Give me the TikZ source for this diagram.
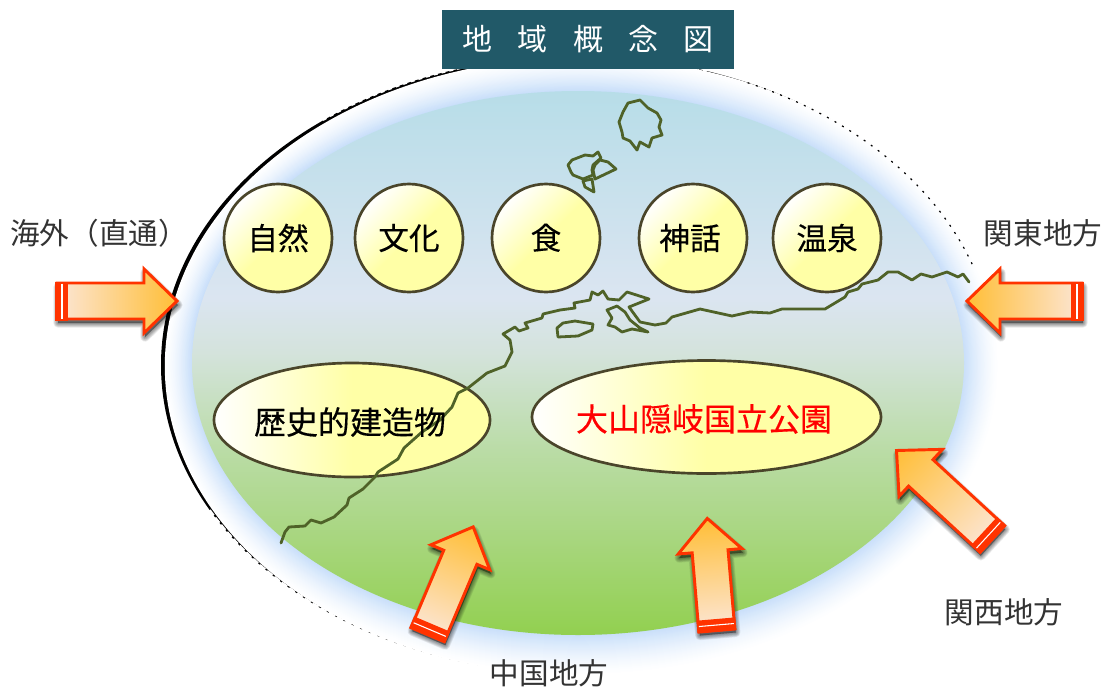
\documentclass[tikz,border=0pt]{standalone}
\usepackage{fontspec}
\setmainfont{Noto Sans CJK JP}
\newfontfamily\medcjk[FakeBold=0.35]{Noto Sans CJK JP}
\usetikzlibrary{shapes.geometric}
\definecolor{glowblue}{HTML}{C8DFFA}
\definecolor{coast}{HTML}{4F6228}
\definecolor{edgebrown}{HTML}{4A452A}
\definecolor{flowred}{HTML}{FF3300}
\definecolor{tailpale}{HTML}{FCE6D6}
\definecolor{tipgold}{HTML}{FFBE36}
\definecolor{titleteal}{HTML}{215968}
\definecolor{ra}{HTML}{92D050}
\definecolor{rb}{HTML}{A8D67F}
\definecolor{rc}{HTML}{BADCA6}
\definecolor{rd}{HTML}{D4E3DC}
\definecolor{re}{HTML}{DBE5F1}
\definecolor{rf}{HTML}{B7DDE8}
\definecolor{cream}{HTML}{FFFFA6}
\pgfdeclareverticalshading{regionfill}{100bp}{
 color(0bp)=(ra);color(25bp)=(ra);
 color(34bp)=(rb);color(42bp)=(rc);color(51bp)=(rd);
 color(56bp)=(re);color(75bp)=(rf);color(100bp)=(rf)}
\pgfdeclarehorizontalshading{creamfill}{100bp}{
 color(0bp)=(white);color(25bp)=(white);color(50bp)=(cream);color(100bp)=(cream)}
\tikzset{
 topicball/.style={circle,draw=edgebrown,line width=2pt,minimum size=81pt,inner sep=0pt,outer sep=0pt,shading=creamfill,shading angle=-45,font=\medcjk\fontsize{23pt}{25pt}\selectfont},
 topicoval/.style={ellipse,draw=edgebrown,line width=2pt,inner sep=0pt,outer sep=0pt,shading=creamfill},
 ovaltext/.style={inner sep=0pt,font=\medcjk\fontsize{24pt}{26pt}\selectfont},
 sidelabel/.style={inner sep=0pt,text=black!80,font=\fontsize{22.2pt}{24pt}\selectfont},
 coastline/.style={draw=coast,line width=2.1pt,line join=round,line cap=round},
 breakup/.style={white,line width=1.3pt,dash pattern=on 3pt off 3pt},
}
\newcommand{\flowarrow}[5]{% tail x, tail y, angle, length, name
 \begin{scope}[shift={(#1+1,#2+4)},rotate=#3]
  \foreach \w in {1,2,...,7}{
   \draw[black,opacity=.07,fill=black,line width=\w pt,line join=round]
    (2,-18)--(#4-35,-18)--(#4-35,-32)--(#4-2,0)--(#4-35,32)--(#4-35,18)--(2,18)--cycle;}
 \end{scope}
 \begin{scope}[transform canvas={shift={(#1,#2)},rotate=#3}]
  \draw[draw=flowred,line width=2.2pt,miter limit=10,left color=tailpale,right color=tipgold]
    (2,-18)--(#4-35,-18)--(#4-35,-32)--(#4-2,0)--(#4-35,32)--(#4-35,18)--(2,18)--cycle;
  \fill[flowred] (0,-19.5) rectangle (13,19.5);
  \draw[white,line width=.8pt] (7,-17.5) -- (7,17.5);
 \end{scope}
 \coordinate (#5) at (#1,#2);
}
\begin{document}
\begin{tikzpicture}[x=.75pt,y=-.75pt]
\useasboundingbox (0,0) rectangle (1106,686);
\fill[white] (0,0) rectangle (1106,686);
% black sliver behind the halo
\fill[black] (578,365) ellipse [x radius=417,y radius=309];
% halo
\foreach \i in {0,1,...,40}{
 \pgfmathsetmacro{\t}{\i/40}
 \pgfmathsetmacro{\cx}{581.8-3.8*\t}
 \pgfmathsetmacro{\cy}{366.3-3.3*\t}
 \pgfmathsetmacro{\rx}{417-31*\t}
 \pgfmathsetmacro{\ry}{309-37*\t}
 \pgfmathsetmacro{\p}{100*\t^1.4}
 \fill[glowblue!\p!white] (\cx,\cy) ellipse [x radius=\rx,y radius=\ry];
}
% the outline breaks up into dashes and specks
\draw[breakup] plot[domain=72:128,samples=80] ({578+417.3*cos(\x)},{365-309.3*sin(\x)});
\draw[breakup,dash pattern=on 5pt off 2pt,line width=2pt] plot[domain=208:262,samples=80] ({578+417.3*cos(\x)},{365-309.3*sin(\x)});
\draw[black,line width=.9pt,dash pattern=on 1.5pt off 5pt]
  plot[domain=66:18,samples=60] ({578+417*cos(\x)},{365-309*sin(\x)});
% region
\shade[shading=regionfill] (578,363) ellipse [x radius=386,y radius=272];
% title
\node[fill=titleteal,text=white,minimum width=219pt,minimum height=44.25pt,inner sep=0pt,font=\fontsize{22.5pt}{24pt}\selectfont] (title) at (588,39.5) {地\hspace{18.8pt}域\hspace{18.8pt}概\hspace{18.8pt}念\hspace{18.8pt}図};
% topics
\node[topicball] (t1) at (278,238) {自然};
\node[topicball] (t2) at (409,238) {文化};
\node[topicball] (t3) at (546,238) {\raisebox{2.2pt}{食}};
\node[topicball] (t4) at (693,238) {\hspace{-4.5pt}神話};
\node[topicball] (t5) at (827,238) {温泉};
\node[topicoval,minimum width=207pt,minimum height=85.5pt] (t6) at (352,420) {};
\node[topicoval,minimum width=261.75pt,minimum height=84.75pt] (t7) at (706.5,417) {};
\node[ovaltext,text=red] (t7text) at (704,419) {大山隠岐国立公園};
% coast
\draw[coastline] (281,543)--(285,532)--(289,527)--(305,526)--(311,520)--(321,523)--(334,517)--(347,505)--(349,498)--(363,489)--(375,477)--(378,472)--(398,459)--(404,448)--(422,432)--(440,420)--(452,407)--(458,393)--(468,388)--(487,373)--(505,366)--(512,352)--(510,340)--(503,334)--(515,327)--(519,331)--(528,328)--(525,323)--(542,318)--(543,314)--(560,310)--(575,308)--(574,303)--(590,300)--(592,292)--(598,295)--(603,291)--(608,299)--(619,300)--(627,292)--(649,299)--(629,307)--(640,322)--(655,325)--(666,323)--(672,317)--(700,309)--(732,316)--(750,312)--(770,313)--(782,309)--(825,309)--(845,297)--(848,292)--(858,289)--(862,284)--(878,280)--(888,272)--(898,272)--(912,280)--(921,274)--(932,277)--(947,272)--(958,277)--(963,274)--(969,282);
\draw[coastline] (607,310)--(617,306)--(625,312)--(630,320)--(640,328)--(648,332)--(632,329)--(622,332)--(615,327)--(608,325)--(612,318)--cycle;
\draw[coastline] (557,328)--(563,323)--(575,321)--(593,324)--(592,330)--(578,336)--(558,337)--cycle;
\draw[coastline] (628,103)--(640,100)--(648,108)--(657,113)--(661,120)--(659,127)--(662,135)--(652,138)--(649,147)--(640,142)--(637,150)--(630,141)--(623,138)--(622,132)--(619,122)--(623,112)--cycle;
\draw[coastline] (568,165)--(572,160)--(585,155)--(593,156)--(598,152)--(601,158)--(593,165)--(592,170)--(593,175)--(583,179)--(573,175)--(571,172)--cycle;
\draw[coastline] (595,165)--(600,160)--(608,162)--(616,169)--(595,179)--(593,170)--cycle;
\draw[coastline] (583,181)--(592,179)--(594,192)--(585,187)--cycle;
% oval text above the coast
\node[ovaltext] (t6text) at (350,422) {歴史的建造物};
% arrows
\flowarrow{55}{301}{0}{124}{a1}
\flowarrow{1084}{301}{180}{119}{a2}
\flowarrow{427}{636}{67.05}{120.5}{a3}
\flowarrow{717}{632}{94.9}{116}{a4}
\flowarrow{993.5}{540}{137.3}{134}{a5}
% labels
\node[sidelabel] (l1) at (99,233) {海外（直通）};
\node[sidelabel] (l2) at (1043,233) {関東地方};
\node[sidelabel] (l3) at (1004,612) {関西地方};
\node[sidelabel] (l4) at (549,673) {中国地方};
\end{tikzpicture}
\end{document}
